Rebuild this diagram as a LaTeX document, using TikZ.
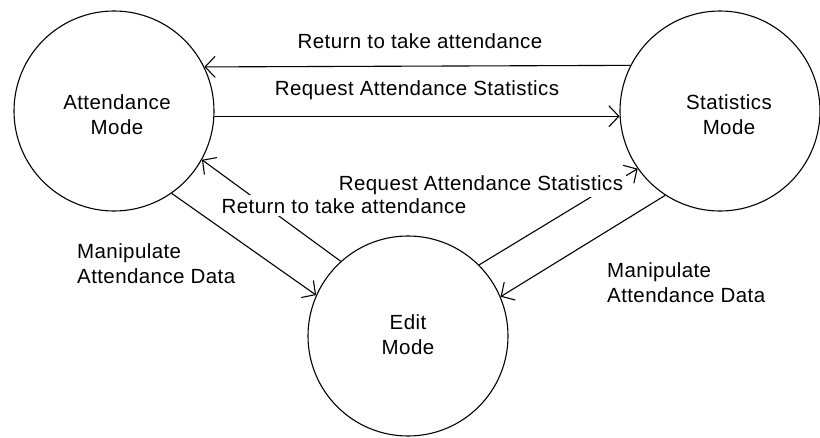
\documentclass[tikz,border=0pt]{standalone}
\usepackage{fontspec}
\setmainfont[LetterSpace=2]{Liberation Sans}
\usetikzlibrary{arrows.meta}
\begin{document}
\begin{tikzpicture}[x=1pt,y=-1pt,
  every node/.style={font=\fontsize{20.5}{25}\selectfont},
  state/.style={draw, circle, minimum size=200pt, inner sep=0pt, line width=1.1pt},
  conn/.style={line width=1.1pt, -{Straight Barb[length=10pt,width=21pt]}},
  txt/.style={inner sep=0pt, align=center},
  lbl/.style={anchor=base, inner sep=1pt},
  cover/.style={anchor=base, fill=white, inner sep=3pt},
  side/.style={anchor=base west, align=left, inner sep=0pt}]
\useasboundingbox[fill=white] (0,0) rectangle (820,437);
% states
\node[state] (att) at (114,111) {};
\node[state] (stat) at (720,111) {};
\node[state] (edit) at (408,336) {};
\node[txt] (attL) at (117,115) {Attendance\\Mode};
\node[txt] (statL) at (729,115) {Statistics\\Mode};
\node[txt] (editL) at (408,335) {Edit\\Mode};
% connectors
\draw[conn] (stat.153.26) -- (att.26.74);
\draw[conn] (att.-3.44) -- (stat.183.44);
\draw[conn] (edit.132.6) -- (att.-29.1);
\draw[conn] (att.-55.3) -- (edit.156.7);
\draw[conn] (edit.45.8) -- (stat.215.5);
\draw[conn] (stat.237.6) -- (edit.23.6);
% labels
\node[lbl] (l1) at (420,48) {Return to take attendance};
\node[lbl] (l2) at (417,95) {Request Attendance Statistics};
\node[cover] (l3) at (481,190) {Request Attendance Statistics};
\node[cover] (l4) at (344,213) {Return to take attendance};
\node[side] (l5) at (77,283) {Manipulate\\Attendance Data};
\node[side] (l6) at (607,302) {Manipulate\\Attendance Data};
\end{tikzpicture}
\end{document}
